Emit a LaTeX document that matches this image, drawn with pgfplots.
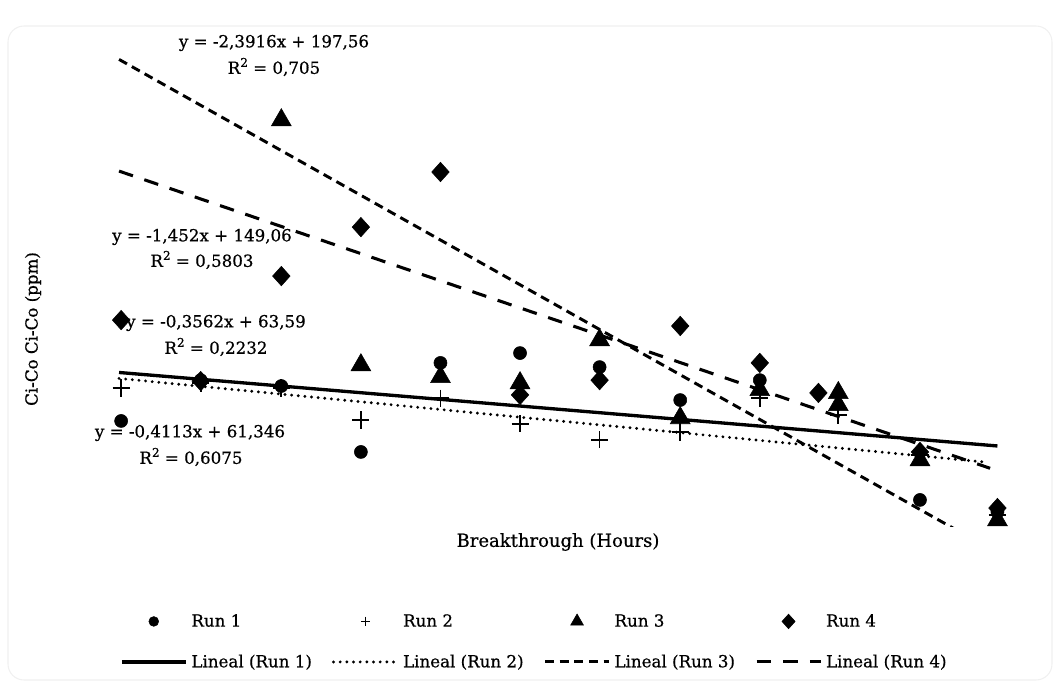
\documentclass[border=0pt]{standalone}
\usepackage{fontspec}
\setmainfont{DejaVu Serif}[FakeBold=0.6]
\usepackage{pgfplots}
\pgfplotsset{compat=1.18}
\newcommand\fs{\fontsize{12.5}{15}\selectfont}
\newcommand\Rsq{R\raisebox{0.42em}{\fontsize{9}{9}\selectfont 2}}
\newcommand\px[2]{({(#1-84.5)*0.75pt},{(526-#2)*0.75pt})}
\pgfplotsset{
  legmark/.style={legend image code/.code={\draw[mark repeat=2,mark phase=2,##1,every mark/.append style={scale=#1}] plot coordinates {(0pt,0pt)(24pt,0pt)(48pt,0pt)};}},
}
\begin{document}
\begin{tikzpicture}[font=\fs]
\draw[black!6, line width=0.8pt, rounded corners=12pt] \px{8}{26} rectangle \px{1052}{680};
\begin{axis}[
  at={(0,0)}, anchor=south west,
  scale only axis, width=706.7pt, height=369pt,
  xmin=0, xmax=90, ymin=0, ymax=200,
  hide axis,
  clip mode=individual,
  legend columns=4,
  legend style={draw=none, fill=none, inner sep=0pt, at={(0.0375,-0.1707)}, anchor=north west, font=\fs,
    /tikz/every even column/.append style={column sep=12pt}, row sep=13.5pt,
    nodes={inner sep=3pt, anchor=west}},
]
\addplot[only marks, mark=*, mark size=4.9pt, black, legmark=0.75] coordinates {
(3.5,42.7) (11.1,59.3) (18.8,56.9) (26.4,30.1) (34.0,66.3) (41.6,70.3) (49.2,64.6) (56.9,51.2) (64.5,59.3) (79.8,10.6) (87.2,5.7)};
\addlegendentry{Run 1}
\addplot[only marks, mark=+, mark size=6.4pt, black, mark options={line width=1.3pt}, legmark=0.55] coordinates {
(3.5,56.1) (11.1,58.1) (18.8,56.1) (26.4,43.1) (34.0,52.0) (41.6,41.5) (49.2,35.0) (56.9,38.2) (64.5,52.0) (72.0,45.1) (79.8,28.9) (87.2,4.5)};
\addlegendentry{Run 2}
\addplot[only marks, mark=triangle*, mark size=8.6pt, black, legmark=0.65] coordinates {
(18.8,165.0) (26.4,65.4) (34.0,60.6) (41.6,58.1) (49.2,75.6) (56.9,43.9) (64.5,55.3) (72.0,54.1) (72.0,49.2) (79.8,26.8) (87.2,2.4)};
\addlegendentry{Run 3}
\addplot[only marks, mark=diamond*, mark size=7.3pt, black, mark options={xscale=1.2}, legmark=0.75] coordinates {
(3.5,83.7) (11.1,58.9) (18.8,101.6) (26.4,121.5) (34.0,143.9) (41.6,53.3) (49.2,59.3) (56.9,81.3) (64.5,66.3) (70.1,54.1) (79.8,30.1) (87.2,7.3)};
\addlegendentry{Run 4}
\addplot[black, line width=2.5pt, legmark=1] coordinates {(3.3,62.41) (87.2,32.53)};
\addlegendentry{Lineal (Run 1)}
\addplot[black, line width=2.4pt, line cap=round, dash pattern=on 0pt off 5pt, legmark=1] coordinates {(3.3,59.99) (86.2,25.89)};
\addlegendentry{Lineal (Run 2)}
\addplot[black, line width=2.2pt, dash pattern=on 6.8pt off 4.2pt, legmark=1] coordinates {(3.3,189.67) (87.2,-10.99)};
\addlegendentry{Lineal (Run 3)}
\addplot[black, line width=2.3pt, dash pattern=on 11pt off 9pt, legmark=1] coordinates {(3.3,144.27) (86.5,23.46)};
\addlegendentry{Lineal (Run 4)}
\end{axis}
\node at \px{274}{43} {y = -2,3916x + 197,56};
\node at \px{274}{67} {\Rsq{} = 0,705};
\node at \px{202}{237} {y = -1,452x + 149,06};
\node at \px{202}{260} {\Rsq{} = 0,5803};
\node at \px{216}{323} {y = -0,3562x + 63,59};
\node at \px{216}{347} {\Rsq{} = 0,2232};
\node at \px{190}{433} {y = -0,4113x + 61,346};
\node at \px{191}{457} {\Rsq{} = 0,6075};
\node[rotate=90] at \px{33}{329} {Ci-Co Ci-Co (ppm)};
\node at \px{558}{542} {\fontsize{13.5}{16}\selectfont Breakthrough (Hours)};
\pgfresetboundingbox
\path \px{0}{0} rectangle \px{1064}{686};
\end{tikzpicture}
\end{document}
